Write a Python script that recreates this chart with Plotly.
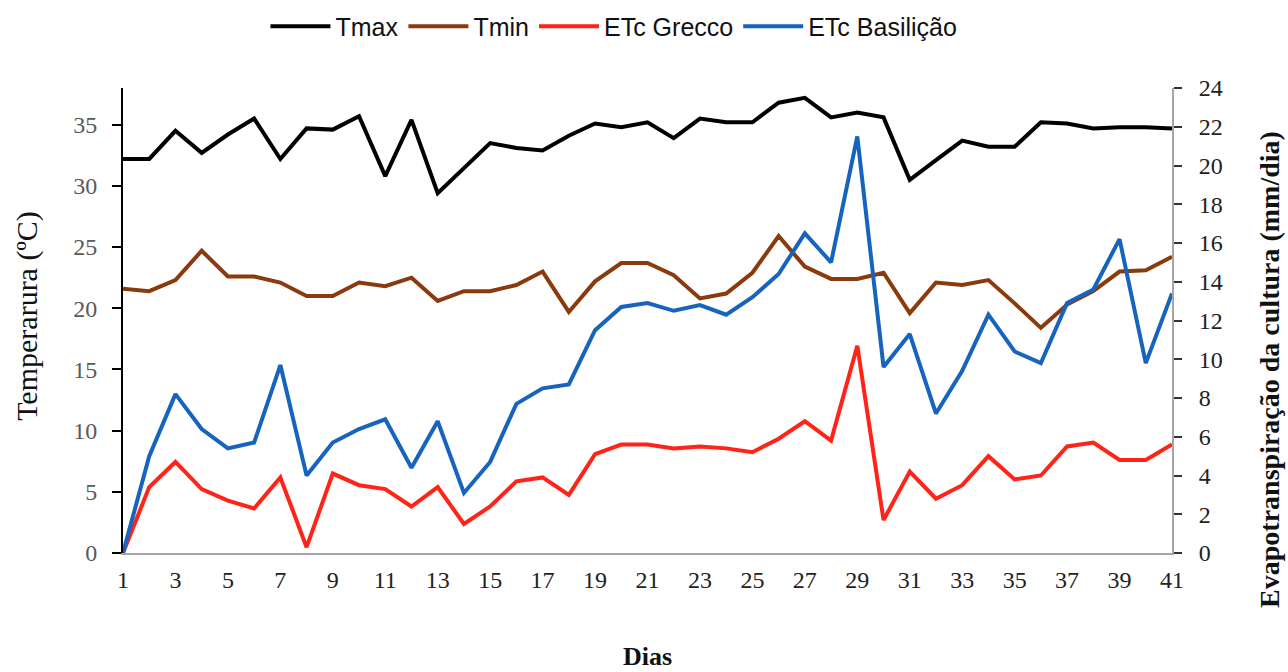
import plotly.graph_objects as go

# Daily series (days 1..41)
dias = list(range(1, 42))

tmax = [32.2, 32.2, 34.5, 32.7, 34.2, 35.5, 32.2, 34.7, 34.6, 35.7,
        30.8, 35.4, 29.4, 31.4, 33.5, 33.1, 32.9, 34.1, 35.1, 34.8,
        35.2, 33.9, 35.5, 35.2, 35.2, 36.8, 37.2, 35.6, 36.0, 35.6,
        30.5, 32.1, 33.7, 33.2, 33.2, 35.2, 35.1, 34.7, 34.8, 34.8, 34.7]

tmin = [21.6, 21.4, 22.3, 24.7, 22.6, 22.6, 22.1, 21.0, 21.0, 22.1,
        21.8, 22.5, 20.6, 21.4, 21.4, 21.9, 23.0, 19.7, 22.2, 23.7,
        23.7, 22.7, 20.8, 21.2, 22.9, 25.9, 23.4, 22.4, 22.4, 22.9,
        19.6, 22.1, 21.9, 22.3, 20.4, 18.4, 20.3, 21.4, 23.0, 23.1, 24.2]

etc_grecco = [0.0, 3.4, 4.7, 3.3, 2.7, 2.3, 3.9, 0.3, 4.1, 3.5,
              3.3, 2.4, 3.4, 1.5, 2.4, 3.7, 3.9, 3.0, 5.1, 5.6,
              5.6, 5.4, 5.5, 5.4, 5.2, 5.9, 6.8, 5.8, 10.7, 1.7,
              4.2, 2.8, 3.5, 5.0, 3.8, 4.0, 5.5, 5.7, 4.8, 4.8, 5.6]

etc_basilicao = [0.0, 5.0, 8.2, 6.4, 5.4, 5.7, 9.7, 4.0, 5.7, 6.4,
                 6.9, 4.4, 6.8, 3.1, 4.7, 7.7, 8.5, 8.7, 11.5, 12.7,
                 12.9, 12.5, 12.8, 12.3, 13.2, 14.4, 16.5, 15.0, 21.5, 9.6,
                 11.3, 7.2, 9.4, 12.3, 10.4, 9.8, 12.9, 13.6, 16.2, 9.8, 13.4]

temp_ticks = [0, 5, 10, 15, 20, 25, 30, 35]
etc_ticks = list(range(0, 25, 2))
day_ticks = list(range(1, 42, 2))

serif = "Liberation Serif, Times New Roman, serif"
sans = "Liberation Sans, Arial, sans-serif"

fig = go.Figure()
fig.add_trace(go.Scatter(x=dias, y=tmax, name="Tmax", mode="lines",
                         line=dict(color="#000000", width=4)))
fig.add_trace(go.Scatter(x=dias, y=tmin, name="Tmin", mode="lines",
                         line=dict(color="#8B3A0E", width=4)))
fig.add_trace(go.Scatter(x=dias, y=etc_grecco, name="ETc Grecco", mode="lines",
                         line=dict(color="#FF2318", width=4), yaxis="y2"))
fig.add_trace(go.Scatter(x=dias, y=etc_basilicao, name="ETc Basilição", mode="lines",
                         line=dict(color="#1764BE", width=4), yaxis="y2"))

fig.update_layout(
    width=1288, height=672,
    margin=dict(l=123, r=116, t=88, b=119, autoexpand=False),
    paper_bgcolor="white", plot_bgcolor="white",
    showlegend=True,
    legend=dict(orientation="h", x=0.468, xanchor="center", xref="paper",
                y=1.132, yref="paper", yanchor="middle",
                font=dict(family=sans, size=25, color="#111111"),
                itemwidth=60, tracegroupgap=0, bgcolor="rgba(0,0,0,0)"),
    xaxis=dict(range=[1, 41], tickmode="array", tickvals=day_ticks,
               ticktext=[str(d) for d in day_ticks],
               showgrid=False, zeroline=False, showline=True,
               linecolor="#A6A6A6", linewidth=2, ticks="",
               ticklabelstandoff=4,
               tickfont=dict(family=serif, size=24, color="#222222")),
    yaxis=dict(range=[0, 38], tickvals=temp_ticks,
               showgrid=False, zeroline=False, showline=True,
               linecolor="#000000", linewidth=2, ticks="outside",
               ticklen=9, tickwidth=2, tickcolor="#000000",
               ticklabelstandoff=10,
               tickfont=dict(family=serif, size=24, color="#5a5a5a")),
    yaxis2=dict(range=[0, 24], tickvals=etc_ticks,
                overlaying="y", side="right",
                showgrid=False, zeroline=False, showline=True,
                linecolor="#A6A6A6", linewidth=2, ticks="outside",
                ticklen=8, tickwidth=2, tickcolor="#333333",
                ticklabelstandoff=12,
                tickfont=dict(family=serif, size=24, color="#222222")),
)

fig.add_annotation(text="Temperarura (ºC)", xref="paper", yref="paper",
                   x=-0.0915, y=0.51, xanchor="center", yanchor="middle",
                   textangle=-90, showarrow=False,
                   font=dict(family=serif, size=30, color="#111111"))
fig.add_annotation(text="<b>Evapotranspiração da cultura (mm/dia)</b>",
                   xref="paper", yref="paper", x=1.093, y=0.395,
                   xanchor="center", yanchor="middle",
                   textangle=-90, showarrow=False,
                   font=dict(family=serif, size=28, color="#111111"))
fig.add_annotation(text="<b>Dias</b>", xref="paper", yref="paper",
                   x=0.5, y=-0.222, xanchor="center", yanchor="middle",
                   showarrow=False,
                   font=dict(family=serif, size=26, color="#111111"))

fig.write_html("out.html")
